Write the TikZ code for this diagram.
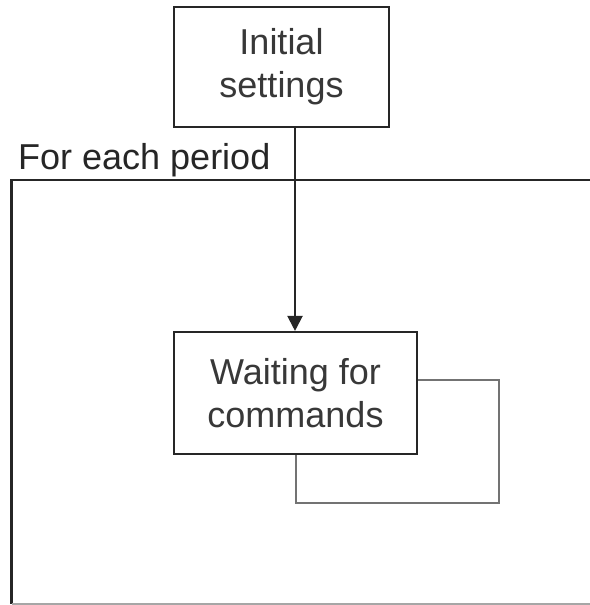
\documentclass[tikz,border=0pt]{standalone}
\usepackage{fontspec}
\setmainfont{Liberation Sans}
\usetikzlibrary{arrows.meta}
\definecolor{boxline}{HTML}{262626}
\definecolor{loopline}{HTML}{737373}
\definecolor{txt}{HTML}{383838}
\tikzset{
  stepbox/.style={draw=boxline, line width=2.1pt, fill=white, inner sep=0pt,
    align=center, text=txt, font=\fontsize{36}{43}\selectfont},
  flow/.style={draw=boxline, line width=2.1pt, -{Triangle[width=15pt,length=15pt]}},
  selfloop/.style={draw=loopline, line width=2.8pt},
  region/.style={draw=boxline, line width=2.1pt},
}
\begin{document}
\begin{tikzpicture}[x=1pt,y=1pt]
\useasboundingbox (0,0) rectangle (589,-605);
% period region (open to the right)
\coordinate (fr-tr) at (592,-180);
\coordinate (fr-tl) at (11.5,-180);
\coordinate (fr-bl) at (11.5,-604);
\coordinate (fr-br) at (592,-604);
\draw[region] (fr-tr) -- (fr-tl) -- (fr-bl);
\draw[draw=black!35, line width=1.5pt] (fr-bl) -- (fr-br);
\node[anchor=base west, text=black!85, font=\fontsize{36}{40}\selectfont, inner sep=0pt]
  (lbl) at (18,-169) {For each period};
% states
\node[stepbox, minimum width=215pt, minimum height=120pt] (init) at (281.5,-67) {Initial\\settings};
\node[stepbox, minimum width=243pt, minimum height=122pt] (wait) at (295.5,-393) {Waiting for\\commands};
% transitions
\draw[flow] (init.south -| 295,0) -- (wait.north -| 295,0);
\coordinate (l1) at (499,-380);
\coordinate (l2) at (499,-503);
\coordinate (l3) at (296,-503);
\draw[selfloop] (wait.east |- l1) -- (l1) -- (l2) -- (l3) -- (l3 |- wait.south);
\end{tikzpicture}
\end{document}
